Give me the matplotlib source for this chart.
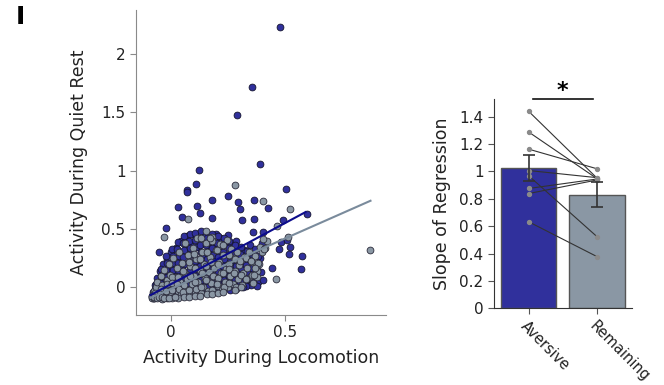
import matplotlib
matplotlib.use("Agg")
from matplotlib import pyplot as plt
import numpy as np

# --- scatter: activity during locomotion vs quiet rest (x, y) ---
gray_pts = [
    (-0.085, -0.09), (-0.08, -0.06), (-0.075, -0.03), (-0.07, -0.08), (-0.065, 0.0),
    (-0.06, 0.05), (-0.055, -0.07), (-0.05, -0.04), (-0.045, 0.1), (-0.04, 0.02),
    (-0.035, -0.08), (-0.03, 0.15), (-0.025, -0.02), (-0.02, 0.06), (-0.015, -0.07),
    (-0.01, 0.2), (-0.005, 0.11), (0.0, -0.04), (0.005, 0.02), (0.01, 0.25),
    (0.015, -0.08), (0.02, 0.09), (0.025, 0.17), (0.03, -0.03), (0.035, 0.3),
    (0.04, 0.05), (0.045, -0.06), (0.05, 0.21), (0.055, 0.13), (0.06, 0.38),
    (0.065, -0.02), (0.07, 0.07), (0.075, 0.28), (0.08, -0.06), (0.085, 0.18),
    (0.09, 0.03), (0.095, 0.34), (0.1, 0.1), (0.105, -0.04), (0.11, 0.24),
    (0.115, 0.42), (0.12, 0.05), (0.125, 0.15), (0.13, -0.05), (0.135, 0.3),
    (0.14, 0.0), (0.145, 0.2), (0.15, 0.08), (0.155, 0.38), (0.16, -0.03),
    (0.165, 0.13), (0.17, 0.26), (0.175, 0.04), (0.18, 0.43), (0.185, -0.02),
    (0.19, 0.17), (0.195, 0.32), (0.2, 0.08), (0.205, 0.01), (0.21, 0.22),
    (0.215, 0.37), (0.22, 0.12), (0.225, -0.02), (0.23, 0.28), (0.235, 0.05),
    (0.24, 0.16), (0.245, 0.41), (0.25, 0.0), (0.255, 0.2), (0.26, 0.1),
    (0.265, 0.33), (0.27, 0.03), (0.275, 0.25), (0.28, 0.14), (0.285, -0.01),
    (0.29, 0.3), (0.295, 0.07), (0.3, 0.19), (0.31, 0.02), (0.315, 0.12),
    (0.32, 0.26), (0.33, 0.07), (0.335, 0.17), (0.34, 0.3), (0.35, 0.1),
    (0.355, 0.22), (0.36, 0.04), (0.37, 0.27), (0.375, 0.14), (0.385, 0.2),
    (0.39, 0.35), (0.4, 0.3), (0.41, 0.34), (0.42, 0.4),
    (-0.07, -0.05), (-0.074, -0.09), (-0.044, -0.01), (-0.048, -0.06), (-0.042, -0.1),
    (-0.02, 0.03), (-0.023, -0.03), (-0.019, -0.09), (0.005, 0.09), (0.002, 0.04),
    (0.006, -0.02), (0.004, -0.09), (0.03, 0.09), (0.027, 0.03), (0.034, -0.01),
    (0.03, -0.09), (0.052, 0.14), (0.056, 0.02), (0.054, -0.04), (0.057, -0.085),
    (0.078, 0.22), (0.084, 0.1), (0.08, -0.02), (0.077, -0.08), (0.102, 0.29),
    (0.106, 0.17), (0.104, 0.05), (0.108, -0.01), (0.103, -0.075), (0.13, 0.42),
    (0.127, 0.24), (0.134, 0.12), (0.13, 0.0), (0.128, -0.07), (0.152, 0.48),
    (0.156, 0.3), (0.155, 0.18), (0.153, 0.06), (0.158, -0.06), (0.18, 0.4),
    (0.177, 0.22), (0.184, 0.1), (0.18, -0.02), (0.178, -0.06), (0.202, 0.32),
    (0.206, 0.2), (0.205, 0.08), (0.203, 0.03), (0.208, -0.05), (0.23, 0.36),
    (0.227, 0.12), (0.234, 0.0), (0.23, -0.04), (0.252, 0.28), (0.256, 0.16),
    (0.255, 0.04), (0.28, 0.24), (0.277, 0.12), (0.284, 0.0), (0.28, -0.02),
    (0.302, 0.23), (0.306, 0.11), (0.305, 0.0), (0.33, 0.25), (0.327, 0.07),
    (0.352, 0.23), (0.356, 0.11), (0.38, 0.21), (0.377, 0.09),
    (-0.084, -0.075), (-0.076, -0.085), (-0.062, -0.095), (-0.052, -0.08), (-0.038, -0.085),
    (-0.03, -0.095), (-0.01, -0.09), (0.015, -0.085),
    (0.281, 0.877), (0.405, 0.74), (0.522, 0.668), (0.073, 0.583), (0.463, 0.528),
    (-0.029, 0.434), (0.873, 0.32), (0.368, 0.168), (0.461, 0.071), (0.364, 0.103),
    (0.405, 0.411), (0.515, 0.434), (0.408, 0.331), (0.17, 0.42),
]

blue_pts = [
    (-0.085, -0.08), (-0.08, -0.04), (-0.075, -0.095), (-0.07, 0.02), (-0.065, -0.06),
    (-0.06, 0.08), (-0.055, -0.02), (-0.05, 0.14), (-0.045, -0.08), (-0.04, 0.04),
    (-0.035, 0.2), (-0.03, -0.05), (-0.025, 0.1), (-0.02, 0.24), (-0.015, 0.0),
    (-0.01, 0.16), (-0.005, -0.06), (0.0, 0.3), (0.005, 0.07), (0.01, -0.02),
    (0.015, 0.2), (0.02, 0.34), (0.025, 0.12), (0.03, -0.06), (0.035, 0.04),
    (0.04, 0.26), (0.045, 0.4), (0.05, 0.16), (0.055, 0.0), (0.06, 0.32),
    (0.065, 0.1), (0.07, 0.44), (0.075, -0.04), (0.08, 0.22), (0.085, 0.37),
    (0.09, 0.06), (0.095, 0.14), (0.1, 0.28), (0.105, 0.45), (0.11, 0.0),
    (0.115, 0.19), (0.12, 0.35), (0.125, 0.09), (0.13, 0.42), (0.135, -0.02),
    (0.14, 0.25), (0.145, 0.13), (0.15, 0.47), (0.155, 0.04), (0.16, 0.31),
    (0.165, 0.2), (0.17, 0.4), (0.175, -0.01), (0.18, 0.1), (0.185, 0.35),
    (0.19, 0.25), (0.195, 0.46), (0.2, 0.03), (0.205, 0.15), (0.21, 0.3),
    (0.215, 0.42), (0.22, 0.06), (0.225, 0.2), (0.23, 0.36), (0.235, 0.0),
    (0.24, 0.12), (0.245, 0.28), (0.25, 0.45), (0.255, 0.05), (0.26, 0.38),
    (0.265, 0.17), (0.27, 0.3), (0.275, 0.08), (0.28, 0.22), (0.285, 0.4),
    (0.29, 0.12), (0.295, 0.02), (0.3, 0.34), (0.305, 0.25), (0.31, 0.1),
    (0.315, 0.18), (0.32, 0.32), (0.33, 0.04), (0.335, 0.24), (0.34, 0.14),
    (0.345, 0.36), (0.35, 0.02), (0.36, 0.2), (0.365, 0.09), (0.37, 0.33),
    (0.38, 0.05), (0.39, 0.25), (0.395, 0.13), (0.4, 0.38),
    (-0.072, -0.01), (-0.068, 0.03), (-0.046, 0.16), (-0.043, 0.1), (-0.047, 0.04),
    (-0.021, 0.27), (-0.018, 0.21), (-0.022, 0.15), (-0.017, 0.09), (0.004, 0.33),
    (0.007, 0.27), (0.003, 0.21), (0.008, 0.15), (0.031, 0.39), (0.028, 0.33),
    (0.033, 0.27), (0.029, 0.21), (0.032, 0.15), (0.056, 0.44), (0.053, 0.38),
    (0.057, 0.32), (0.054, 0.26), (0.058, 0.2), (0.055, 0.08), (0.081, 0.46),
    (0.078, 0.4), (0.083, 0.34), (0.079, 0.28), (0.082, 0.16), (0.08, 0.04),
    (0.106, 0.47), (0.103, 0.41), (0.108, 0.35), (0.104, 0.23), (0.107, 0.11),
    (0.131, 0.48), (0.128, 0.36), (0.133, 0.3), (0.129, 0.18), (0.132, 0.06),
    (0.156, 0.42), (0.153, 0.36), (0.158, 0.24), (0.154, 0.12), (0.157, 0.0),
    (0.181, 0.46), (0.178, 0.34), (0.183, 0.28), (0.179, 0.16), (0.182, 0.04),
    (0.206, 0.44), (0.203, 0.38), (0.208, 0.26), (0.204, 0.14), (0.207, -0.02),
    (0.231, 0.42), (0.228, 0.3), (0.233, 0.24), (0.229, 0.18), (0.232, 0.06),
    (0.256, 0.4), (0.253, 0.34), (0.258, 0.22), (0.254, 0.1), (0.257, -0.02),
    (0.281, 0.36), (0.278, 0.3), (0.283, 0.18), (0.279, 0.06), (0.306, 0.35),
    (0.303, 0.29), (0.308, 0.17), (0.304, 0.05), (0.331, 0.31), (0.328, 0.19),
    (0.333, 0.13), (0.329, 0.01), (0.356, 0.29), (0.353, 0.17), (0.358, 0.05),
    (0.381, 0.27), (0.378, 0.15),
    (-0.082, -0.07), (-0.078, -0.09), (-0.066, -0.08), (-0.058, -0.05),
    (0.478, 2.228), (0.355, 1.714), (0.289, 1.476), (0.39, 1.057), (0.124, 1.005),
    (0.108, 0.885), (0.072, 0.834), (0.072, 0.814), (0.503, 0.84), (0.249, 0.78),
    (0.178, 0.748), (0.029, 0.691), (0.115, 0.7), (0.294, 0.731), (0.366, 0.745),
    (0.427, 0.677), (0.127, 0.634), (0.303, 0.674), (0.05, 0.605), (0.181, 0.591),
    (0.31, 0.577), (0.364, 0.583), (0.493, 0.577), (0.595, 0.631), (-0.022, 0.505),
    (-0.051, 0.305), (0.405, 0.476), (0.361, 0.476), (0.481, 0.391), (0.51, 0.405),
    (0.522, 0.348), (0.475, 0.326), (0.518, 0.283), (0.573, 0.268), (0.568, 0.157),
    (0.442, 0.163), (0.405, 0.063), (0.317, 0.0), (0.377, 0.014),
]

# regression line end points
blue_fit_x = [-0.09, 0.59]
blue_fit_y = [-0.066, 0.645]
gray_fit_x = [-0.09, 0.875]
gray_fit_y = [-0.09, 0.742]

# --- bar chart: slope of regression ---
groups = ["Aversive", "Remaining"]
slope_mean = [1.024, 0.83]
slope_err_lo = [0.092, 0.086]
slope_err_hi = [0.093, 0.092]
pair_aversive = [1.439, 1.288, 1.163, 1.007, 0.968, 0.876, 0.839, 0.632]
pair_remaining = [0.952, 0.948, 1.02, 0.955, 0.524, 0.945, 0.938, 0.378]

blue = "#30309c"
gray = "#8a97a4"

plt.rcParams["font.family"] = "DejaVu Sans"
fig = plt.figure(figsize=(6.64, 3.85), dpi=100)

gx, gy = np.array(gray_pts).T
bxs, bys = np.array(blue_pts).T

# scatter panel (blue first, gray over it so both groups stay visible)
ax = fig.add_axes([0.2048, 0.1818, 0.3765, 0.792])
ax.scatter(bxs, bys, s=24, c=blue, edgecolors="#15152e", linewidths=0.6, zorder=2)
ax.scatter(gx, gy, s=24, c=gray, edgecolors="#2a2a3a", linewidths=0.6, zorder=3)
ax.plot(blue_fit_x, blue_fit_y, color="#0c0c8c", lw=1.5, zorder=4)
ax.plot(gray_fit_x, gray_fit_y, color="#7a8b9c", lw=1.5, zorder=4)
ax.set_xlim(-0.154, 0.943)
ax.set_ylim(-0.237, 2.376)
ax.set_xticks([0, 0.5])
ax.set_xticklabels(["0", "0.5"])
ax.set_yticks([0, 0.5, 1, 1.5, 2])
ax.set_yticklabels(["0", "0.5", "1", "1.5", "2"])
for s in ["top", "right"]:
    ax.spines[s].set_visible(False)
for s in ["left", "bottom"]:
    ax.spines[s].set_color("#8a8a8a")
ax.tick_params(colors="#8a8a8a", labelcolor="#222222", labelsize=11, length=4)
ax.set_xlabel("Activity During Locomotion", fontsize=12.5, color="#222222", labelpad=6)
ax.set_ylabel("Activity During Quiet Rest", fontsize=12.5, color="#222222", labelpad=10)

# bar panel
bx = fig.add_axes([0.744, 0.1992, 0.2074, 0.5437])
pos = np.arange(len(groups))
bx.bar(pos, slope_mean, width=0.81, color=[blue, gray], edgecolor="#555555",
       linewidth=1.0, zorder=1)
for a, r in zip(pair_aversive, pair_remaining):
    bx.plot([0, 1], [a, r], color="#333333", lw=0.8, zorder=2)
bx.scatter(np.zeros(len(pair_aversive)), pair_aversive, s=8, color="#8a8a8a", zorder=3)
bx.scatter(np.ones(len(pair_remaining)), pair_remaining, s=8, color="#8a8a8a", zorder=3)
bx.errorbar(pos, slope_mean, yerr=[slope_err_lo, slope_err_hi], fmt="none",
            ecolor="#333333", elinewidth=1.2, capsize=4, capthick=1.2, zorder=4)
bx.set_xlim(-0.51, 1.51)
bx.set_ylim(0, 1.53)
bx.set_yticks(np.arange(0, 1.41, 0.2))
bx.set_yticklabels(["0", "0.2", "0.4", "0.6", "0.8", "1", "1.2", "1.4"])
bx.set_xticks(pos)
bx.set_xticklabels(groups, rotation=-45, ha="left", va="top", rotation_mode="anchor",
                   fontsize=10.5)
for s in ["top", "right"]:
    bx.spines[s].set_visible(False)
for s in ["left", "bottom"]:
    bx.spines[s].set_color("#333333")
bx.tick_params(colors="#555555", labelcolor="#222222", labelsize=11, length=4)
bx.tick_params(axis="x", labelsize=10.5)
bx.set_ylabel("Slope of Regression", fontsize=12.5, color="#222222", labelpad=6)

# significance marker
bx.plot([0.06, 0.94], [1.53, 1.53], color="#111111", lw=1.2, clip_on=False)
bx.text(0.5, 1.515, "*", ha="center", va="bottom", fontsize=16, fontweight="bold")

fig.text(0.024, 0.955, "I", fontsize=18, fontweight="bold", va="center")

fig.savefig("out.png", dpi=100)
